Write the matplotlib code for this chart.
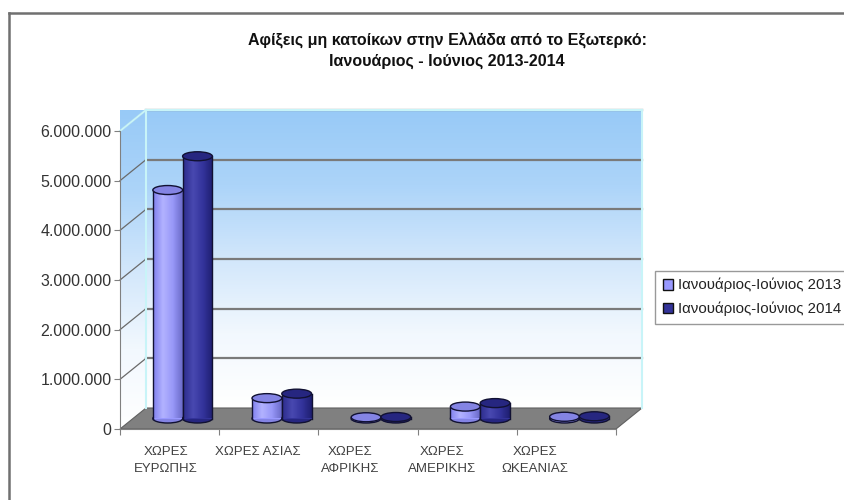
import numpy as np
import matplotlib
matplotlib.use("Agg")
import matplotlib.pyplot as plt
from matplotlib.patches import Polygon, Ellipse, Patch
from matplotlib.colors import LinearSegmentedColormap
from matplotlib.lines import Line2D
from matplotlib.ticker import FuncFormatter

plt.rcParams['font.family'] = ['Liberation Sans', 'DejaVu Sans']

# ---- data ----
categories = ["ΧΩΡΕΣ\nΕΥΡΩΠΗΣ", "ΧΩΡΕΣ ΑΣΙΑΣ", "ΧΩΡΕΣ\nΑΦΡΙΚΗΣ", "ΧΩΡΕΣ\nΑΜΕΡΙΚΗΣ", "ΧΩΡΕΣ\nΩΚΕΑΝΙΑΣ"]
series_names = ["Ιανουάριος-Ιούνιος 2013", "Ιανουάριος-Ιούνιος 2014"]
values_2013 = [4600000, 410000, 25000, 240000, 35000]
values_2014 = [5280000, 500000, 30000, 310000, 45000]
yticks = [0, 1000000, 2000000, 3000000, 4000000, 5000000, 6000000]
title = "Αφίξεις μη κατοίκων στην Ελλάδα από το Εξωτερκό:\nΙανουάριος - Ιούνιος 2013-2014"

colors = ["#9999FF", "#333399"]
tops = ["#8484E4", "#262680"]
cmaps = [LinearSegmentedColormap.from_list("c13", ["#8080EE", "#B2B2FF", "#9898F8", "#6A6AC8"]),
         LinearSegmentedColormap.from_list("c14", ["#2C2C8C", "#4848B0", "#34349C", "#1E1E70"])]

W, H = 844, 500
fig = plt.figure(figsize=(W / 100, H / 100), dpi=100)
L, R, T, B = 120, 616, 131, 429
ax = fig.add_axes([L / W, 1 - B / H, (R - L) / W, (B - T) / H])
ncat = len(categories)
ymax = 6000000
xpx = (R - L) / ncat
ypx = (B - T) / ymax
DX = 26 / xpx
DY = 21 / ypx

# ---- walls ----
grad_cmap = LinearSegmentedColormap.from_list("wall", ["#FFFFFF", "#F2F8FE", "#D2E7FB", "#ACD4F9", "#98CAF7"])
g = np.linspace(0, 1, 256).reshape(-1, 1)
ax.imshow(g, extent=(DX, ncat + DX, DY, ymax + DY), origin="lower", cmap=grad_cmap,
          aspect="auto", zorder=0.5, clip_on=False)
lw_poly = Polygon([(0, 0), (DX, DY), (DX, ymax + DY), (0, ymax)], closed=True,
                  facecolor="none", edgecolor="none", clip_on=False, transform=ax.transData)
ax.add_patch(lw_poly)
im2 = ax.imshow(g, extent=(0, DX, 0, ymax + DY), origin="lower", cmap=grad_cmap,
                aspect="auto", zorder=0.5, clip_on=False)
im2.set_clip_path(lw_poly)

floor = Polygon([(0, 0), (ncat, 0), (ncat + DX, DY), (DX, DY)], closed=True,
                facecolor="#808080", edgecolor="#606060", lw=0.8, zorder=0.6, clip_on=False)
ax.add_patch(floor)

edge_c = "#C8F4F8"
for k in yticks[1:]:
    ax.plot([DX, ncat + DX], [k + DY, k + DY], color="#7A7A7A", lw=1.6, zorder=0.7, clip_on=False)
    ax.plot([0, DX], [k, k + DY], color="#6A6A6A", lw=0.9, zorder=0.7, clip_on=False)
ax.plot([DX, DX], [DY, ymax + DY], color=edge_c, lw=1.5, zorder=0.75, clip_on=False)
ax.plot([ncat + DX, ncat + DX], [DY, ymax + DY], color=edge_c, lw=1.5, zorder=0.75, clip_on=False)
ax.plot([DX, ncat + DX], [ymax + DY, ymax + DY], color=edge_c, lw=1.5, zorder=0.75, clip_on=False)
ax.plot([0, DX], [ymax, ymax + DY], color=edge_c, lw=1.5, zorder=0.75, clip_on=False)

# ---- cylinders ----
bw = 0.3
ell_h = 9 / ypx
base = DY / 2
xc = np.arange(ncat) + 0.5 + DX / 2
for s, vals in enumerate([values_2013, values_2014]):
    zb = 2 + s * 2
    xs = xc + (s - 0.5) * bw
    bars = ax.bar(xs, vals, width=bw, bottom=base, color=colors[s], lw=0, zorder=zb + 0.2)
    for bar, v in zip(bars, vals):
        x0 = bar.get_x()
        cx = x0 + bw / 2
        ax.add_patch(Ellipse((cx, base), bw, ell_h, facecolor=tops[s], edgecolor="#111133",
                             lw=1.0, zorder=zb, clip_on=False))
        im = ax.imshow(np.linspace(0, 1, 64).reshape(1, -1), extent=(x0, x0 + bw, base, base + v),
                       cmap=cmaps[s], aspect="auto", zorder=zb + 0.3, clip_on=True)
        im.set_clip_path(bar)
        ax.plot([x0, x0], [base, base + v], color="#111133", lw=1.0, zorder=zb + 0.4, clip_on=False)
        ax.plot([x0 + bw, x0 + bw], [base, base + v], color="#111133", lw=1.0, zorder=zb + 0.4, clip_on=False)
        ax.add_patch(Ellipse((cx, base + v), bw, ell_h, facecolor=tops[s], edgecolor="#111133",
                             lw=1.0, zorder=zb + 0.5, clip_on=False))

# ---- axes ----
ax.set_xlim(0, ncat)
ax.set_ylim(0, ymax)
ax.set_facecolor("none")
for sp in ["top", "right"]:
    ax.spines[sp].set_visible(False)
ax.spines["left"].set_color("#808080")
ax.spines["bottom"].set_color("#808080")
ax.spines["left"].set_zorder(0.8)
ax.set_yticks(yticks)
ax.yaxis.set_major_formatter(FuncFormatter(lambda v, p: f"{int(v):,}".replace(",", ".")))
ax.tick_params(axis="y", direction="out", length=4, color="#808080", labelsize=11.5,
               labelcolor="#333333", pad=2)
ax.set_xticks(np.arange(ncat + 1))
ax.set_xticklabels([])
ax.tick_params(axis="x", which="major", direction="out", length=4, color="#808080")
label_pos = [0.46 + 0.93 * i for i in range(ncat)]
ax.set_xticks(label_pos, minor=True)
ax.set_xticklabels(categories, minor=True, fontsize=9.5, color="#404040", linespacing=1.55)
ax.tick_params(axis="x", which="minor", length=0, pad=12)

fig.text(447 / W, 1 - 51 / H, title, ha="center", va="center", fontsize=11.5, fontweight="bold",
         color="#111111", linespacing=1.4)

handles = [Patch(facecolor=colors[i], edgecolor="#111111", lw=1.0) for i in range(2)]
leg = fig.legend(handles, series_names, loc="center left", bbox_to_anchor=(655 / W, 1 - 297 / H),
                 fontsize=10.8, frameon=True, fancybox=False, edgecolor="#808080",
                 handlelength=0.7, handleheight=0.7, handletextpad=0.3, borderpad=0.5,
                 labelspacing=0.6, borderaxespad=0)
leg.get_frame().set_linewidth(1.0)
for t in leg.get_texts():
    t.set_color("#222222")

# figure frame (top and left edges)
fig.add_artist(Line2D([9 / W, 1], [1 - 13 / H, 1 - 13 / H], color="#707070", lw=1.8, transform=fig.transFigure))
fig.add_artist(Line2D([9 / W, 9 / W], [0, 1 - 13 / H], color="#707070", lw=1.8, transform=fig.transFigure))

fig.savefig("out.png", dpi=100)
